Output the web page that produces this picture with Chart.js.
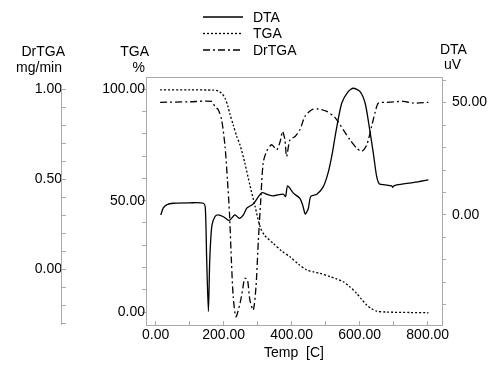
<!DOCTYPE html>
<html>
<head>
<meta charset="utf-8">
<script src="https://cdn.jsdelivr.net/npm/chart.js@4/dist/chart.umd.min.js"></script>
<style>
  html, body { margin: 0; padding: 0; background: #fff; }
  canvas { display: block; }
</style>
</head>
<body>
<canvas id="ThermoChart" width="501" height="372"></canvas>
<script>
// temperatures [C] and readings
const dtaTemp = [15, 22, 32, 52, 100, 140, 146, 150, 155, 159, 165, 174, 184, 199, 216, 233, 246, 258, 268, 287, 312, 330, 346, 375, 382, 388, 405, 424, 432, 440, 449, 456, 474, 493, 508, 520, 530, 547, 566, 581, 601, 616, 628, 640, 650, 658, 674, 694, 697, 700, 709, 760, 802];
const dtaValues = [0, 3, 4.5, 5.2, 5.4, 5.2, 3, -20, -43, -20, -5, -0.8, 0, -0.8, -2.5, 0, -1.5, 0, 3, 4.9, 9.9, 9.0, 8.5, 9.3, 8.2, 12.9, 9.7, 7.4, 4.5, 0.4, 3, 8.2, 9.2, 12.6, 19.3, 28, 37, 49.7, 54.9, 56.4, 54.9, 49.7, 39.3, 27.5, 17, 13.8, 13.4, 12.9, 12.3, 12.9, 13.4, 14.5, 15.6];

const tgaTemp = [13, 100, 170, 185, 195, 204, 212, 218, 228, 238, 248, 262, 277, 292, 307, 320, 346, 370, 395, 420, 444, 465, 483, 513, 530, 552, 570, 591, 605, 621, 635, 650, 680, 750, 802];
const tgaValues = [99.7, 99.7, 99.6, 99.2, 98, 96, 92.5, 89, 84, 79, 75, 67, 57, 47.6, 38.3, 34.5, 30.8, 27.5, 24.8, 21.5, 18.9, 18, 17.4, 15.9, 15, 13.6, 11.5, 8.4, 5.8, 3.1, 1.5, 0.4, 0, -0.2, -0.3];

const drTemp = [13, 100, 165, 174, 184, 194, 204, 211, 217, 223, 228, 236, 248, 255, 262, 270, 277, 287, 295, 302, 309, 316, 326, 341, 356, 366, 373, 380, 385, 395, 410, 424, 439, 459, 478, 503, 527, 552, 571, 591, 606, 621, 635, 645, 655, 679, 728, 758, 802];
const drValues = [0.929, 0.932, 0.934, 0.906, 0.888, 0.832, 0.683, 0.498, 0.312, 0.033, -0.153, -0.264, -0.19, -0.12, -0.05, -0.06, -0.171, -0.227, -0.097, 0.163, 0.386, 0.591, 0.656, 0.693, 0.665, 0.711, 0.767, 0.721, 0.628, 0.721, 0.739, 0.776, 0.851, 0.888, 0.892, 0.879, 0.845, 0.776, 0.721, 0.674, 0.656, 0.693, 0.795, 0.87, 0.925, 0.929, 0.934, 0.925, 0.929];

const seriesNames = ["DTA", "TGA", "DrTGA"];

const axisGray = "#aaaaaa";
const fontFamily = '"Liberation Sans", Arial, sans-serif';

function toPoints(xs, ys) {
    return xs.map((x, i) => ({ x: x, y: ys[i] }));
}

function labelEvery(step, digits) {
    return function (value) {
        let r = value / step;
        if (Math.abs(r - Math.round(r)) > 1e-6) return "";
        return (Math.round(r) * step).toFixed(digits);
    };
}

// axis captions, the short DrTGA axis line and the stacked legend
const overlay = {
    id: "overlay",
    afterDraw(chart) {
        let ctx = chart.ctx;
        let area = chart.chartArea;
        let dr = chart.scales.yDr, tg = chart.scales.yTga, dt = chart.scales.yDta;
        ctx.save();
        ctx.strokeStyle = axisGray;
        ctx.lineWidth = 1;
        ctx.beginPath();
        ctx.moveTo(area.left, area.top + 0.5);
        ctx.lineTo(area.right, area.top + 0.5);
        let drX = Math.round(dr.right) - 0.5;
        ctx.moveTo(drX, dr.getPixelForValue(1.025));
        ctx.lineTo(drX, dr.bottom);
        ctx.stroke();

        ctx.fillStyle = "#000";
        ctx.font = "14px " + fontFamily;
        ctx.textBaseline = "middle";
        ctx.textAlign = "right";
        ctx.fillText("DrTGA", dr.right + 3, 52);
        ctx.fillText("mg/min", dr.right, 68);
        ctx.fillText("TGA", tg.right + 3, 52);
        ctx.fillText("%", tg.right - 1, 68);
        ctx.textAlign = "left";
        ctx.fillText("DTA", dt.left - 2, 50);
        ctx.fillText("uV", dt.left + 2, 65);

        chart.data.datasets.forEach((ds, i) => {
            let y = 17 + i * 16.5;
            ctx.strokeStyle = "#000";
            ctx.lineWidth = ds.borderWidth;
            ctx.setLineDash(ds.borderDash || []);
            ctx.beginPath();
            ctx.moveTo(203, y);
            ctx.lineTo(243, y);
            ctx.stroke();
            ctx.setLineDash([]);
            ctx.fillText(ds.label, 253, y + 1);
        });
        ctx.restore();
    }
};

let ctx = document.getElementById("ThermoChart").getContext("2d");
let thermoChart = new Chart(ctx, {
    type: "line",
    data: {
        datasets: [{
            label: seriesNames[0],
            data: toPoints(dtaTemp, dtaValues),
            yAxisID: "yDta",
            borderColor: "#000",
            borderWidth: 1.3,
            pointRadius: 0,
            tension: 0.25
        }, {
            label: seriesNames[1],
            data: toPoints(tgaTemp, tgaValues),
            yAxisID: "yTga",
            borderColor: "#000",
            borderWidth: 1.3,
            borderDash: [2, 2],
            pointRadius: 0,
            tension: 0.25
        }, {
            label: seriesNames[2],
            data: toPoints(drTemp, drValues),
            yAxisID: "yDr",
            borderColor: "#000",
            borderWidth: 1.3,
            borderDash: [7, 3, 2, 3],
            pointRadius: 0,
            tension: 0.25
        }]
    },
    options: {
        responsive: false,
        animation: false,
        devicePixelRatio: 1,
        layout: { padding: { top: 77, left: 0, right: 0, bottom: 0 } },
        plugins: {
            legend: { display: false },
            tooltip: { enabled: false }
        },
        scales: {
            x: {
                type: "linear",
                position: "bottom",
                min: -28.5,
                max: 842,
                afterFit(s) { s.height = 47; },
                border: { color: axisGray },
                grid: { drawOnChartArea: false, tickLength: -4, color: axisGray },
                ticks: {
                    stepSize: 100,
                    includeBounds: false,
                    autoSkip: false,
                    maxRotation: 0,
                    padding: 6,
                    color: "#000",
                    font: { family: fontFamily, size: 14 },
                    callback: labelEvery(200, 2)
                },
                title: {
                    display: true,
                    text: "Temp  [C]",
                    color: "#000",
                    font: { family: fontFamily, size: 14 },
                    padding: { top: 0, bottom: 10 }
                }
            },
            yDr: {
                type: "linear",
                position: "left",
                weight: 2,
                min: -0.31,
                max: 1.07,
                afterFit(s) { s.width = 62; },
                border: { display: false },
                grid: { drawOnChartArea: false, tickLength: -4, color: axisGray },
                ticks: {
                    stepSize: 0.1,
                    includeBounds: false,
                    autoSkip: false,
                    padding: 4,
                    color: "#000",
                    font: { family: fontFamily, size: 14 },
                    callback: labelEvery(0.5, 2)
                }
            },
            yTga: {
                type: "linear",
                position: "left",
                weight: 1,
                min: -5.8,
                max: 105.5,
                afterFit(s) { s.width = 84; },
                border: { color: axisGray },
                grid: { drawOnChartArea: false, tickLength: 4, color: axisGray },
                ticks: {
                    stepSize: 10,
                    includeBounds: false,
                    autoSkip: false,
                    padding: -3,
                    color: "#000",
                    font: { family: fontFamily, size: 14 },
                    callback: labelEvery(50, 2)
                }
            },
            yDta: {
                type: "linear",
                position: "right",
                min: -49,
                max: 61.4,
                afterFit(s) { s.width = 59; },
                border: { color: axisGray },
                grid: { drawOnChartArea: false, tickLength: 4, color: axisGray },
                ticks: {
                    stepSize: 10,
                    includeBounds: false,
                    autoSkip: false,
                    padding: 6,
                    color: "#000",
                    font: { family: fontFamily, size: 14 },
                    callback: labelEvery(50, 2)
                }
            }
        }
    },
    plugins: [overlay]
});
</script>
</body>
</html>
